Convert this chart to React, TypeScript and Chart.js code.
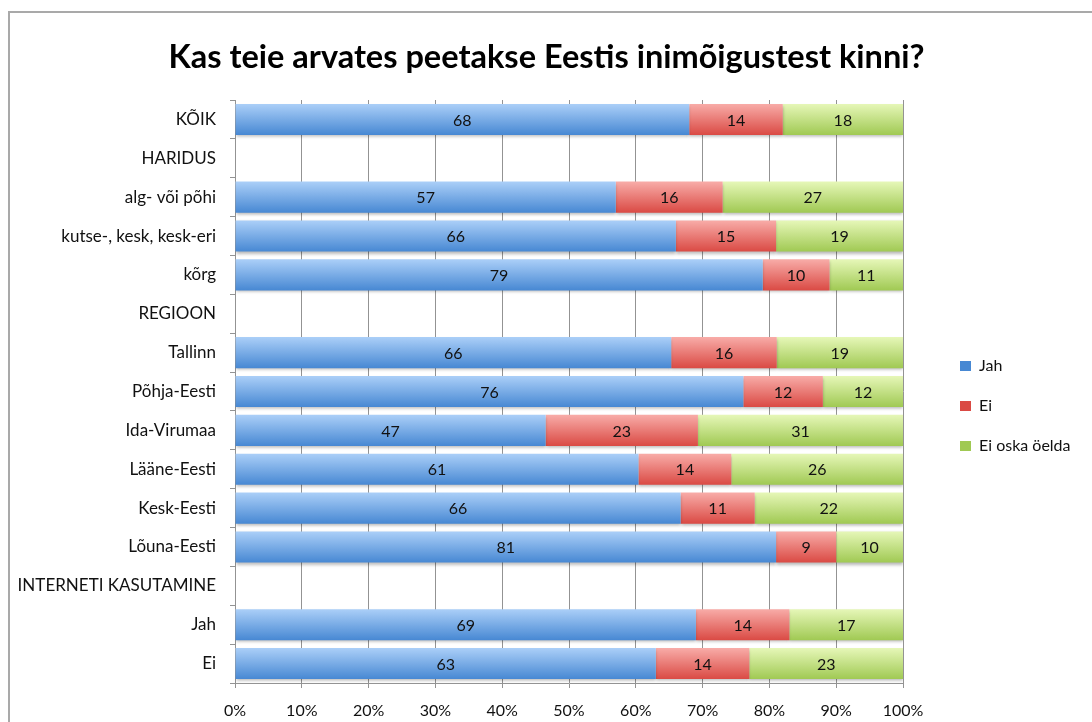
import React, { useEffect, useRef } from "react";
import { Chart, registerables } from "chart.js";

Chart.register(...registerables);

const categories = [
  "KÕIK",
  "HARIDUS",
  "alg- või põhi",
  "kutse-, kesk, kesk-eri",
  "kõrg",
  "REGIOON",
  "Tallinn",
  "Põhja-Eesti",
  "Ida-Virumaa",
  "Lääne-Eesti",
  "Kesk-Eesti",
  "Lõuna-Eesti",
  "INTERNETI KASUTAMINE",
  "Jah",
  "Ei",
];

const seriesNames = ["Jah", "Ei", "Ei oska öelda"];

const jahValues = [68, null, 57, 66, 79, null, 65.3, 76.1, 46.5, 60.4, 66.7, 81.0, null, 69, 63];
const eiValues = [14, null, 16, 15, 10, null, 15.8, 11.9, 22.8, 13.9, 11.1, 9.0, null, 14, 14];
const eosValues = [18, null, 27, 19, 11, null, 18.9, 12.0, 30.7, 25.7, 22.2, 10.0, null, 17, 23];

const jahLabels = ["68", "", "57", "66", "79", "", "66", "76", "47", "61", "66", "81", "", "69", "63"];
const eiLabels = ["14", "", "16", "15", "10", "", "16", "12", "23", "14", "11", "9", "", "14", "14"];
const eosLabels = ["18", "", "27", "19", "11", "", "19", "12", "31", "26", "22", "10", "", "17", "23"];

const xTickValues = [0, 10, 20, 30, 40, 50, 60, 70, 80, 90, 100];

const labelSets = [jahLabels, eiLabels, eosLabels];

const FONT = "Lato, 'Open Sans', 'Noto Sans', sans-serif";
const BAR_PCT = 0.8;

function gradientFill(top: string, bottom: string, flat: string) {
  return (ctx: any) => {
    if (ctx.type !== "data") return flat;
    const chart = ctx.chart;
    const ys = chart.scales && chart.scales.y;
    if (!ys || !chart.chartArea) return flat;
    const c = ys.getPixelForValue(ctx.dataIndex);
    const band = Math.abs(ys.getPixelForValue(1) - ys.getPixelForValue(0)) || 38;
    const h = band * BAR_PCT;
    const g = chart.ctx.createLinearGradient(0, c - h / 2, 0, c + h / 2);
    g.addColorStop(0, top);
    g.addColorStop(1, bottom);
    return g;
  };
}

const barDecor = {
  id: "barDecor",
  beforeDatasetsDraw(chart: any) {
    const c = chart.ctx;
    c.save();
    c.shadowColor = "rgba(0,0,0,0.28)";
    c.shadowBlur = 3;
    c.shadowOffsetX = 0;
    c.shadowOffsetY = 2;
  },
  afterDatasetsDraw(chart: any) {
    const c = chart.ctx;
    c.restore();
    c.save();
    c.font = `16px ${FONT}`;
    c.fillStyle = "#111111";
    c.textAlign = "center";
    c.textBaseline = "middle";
    chart.data.datasets.forEach((ds: any, di: number) => {
      const meta = chart.getDatasetMeta(di);
      const lbls = labelSets[di];
      meta.data.forEach((el: any, i: number) => {
        if (ds.data[i] == null) return;
        const p = el.getProps(["x", "y", "base"], true);
        c.fillText(lbls[i], (p.x + p.base) / 2, p.y + 1);
      });
    });
    c.restore();
  },
};

const boxPlace = {
  id: "boxPlace",
  afterLayout(chart: any) {
    const lg = chart.legend;
    if (lg) {
      lg.left = 926;
      lg.right = 1082;
      lg.top = 87;
      lg.bottom = 699;
    }
    const tb = chart.titleBlock;
    if (tb) {
      tb.left = 0;
      tb.right = 1073;
    }
  },
};

export default function App() {
  const ref = useRef<HTMLCanvasElement | null>(null);

  useEffect(() => {
    if (!ref.current) return;
    const chart = new Chart(ref.current, {
      type: "bar",
      data: {
        labels: categories,
        datasets: [
          {
            label: seriesNames[0],
            data: jahValues,
            backgroundColor: gradientFill("#abcff8", "#4788d3", "#70a6e6"),
            borderWidth: 0,
          },
          {
            label: seriesNames[1],
            data: eiValues,
            backgroundColor: gradientFill("#f8aca8", "#da4a44", "#e87571"),
            borderWidth: 0,
          },
          {
            label: seriesNames[2],
            data: eosValues,
            backgroundColor: gradientFill("#e6f7b8", "#a0c953", "#c5e288"),
            borderWidth: 0,
          },
        ],
      },
      options: {
        indexAxis: "y",
        responsive: false,
        animation: false,
        events: [],
        datasets: {
          bar: {
            barPercentage: BAR_PCT,
            categoryPercentage: 1,
          },
        },
        layout: {
          padding: { left: 0, right: 59, top: 0, bottom: 0 },
        },
        scales: {
          x: {
            stacked: true,
            min: 0,
            max: 100,
            afterBuildTicks: (scale: any) => {
              scale.ticks = xTickValues.map((v) => ({ value: v }));
            },
            afterFit: (scale: any) => {
              scale.height = 39;
            },
            ticks: {
              callback: (v: any) => `${v}%`,
              color: "#111111",
              font: { family: FONT, size: 16 },
              padding: 13,
              maxRotation: 0,
            },
            grid: {
              color: "#939393",
              lineWidth: 1,
              tickLength: 5,
              drawTicks: true,
            },
            border: { color: "#939393", width: 1 },
          },
          y: {
            stacked: true,
            afterFit: (scale: any) => {
              scale.width = 225;
            },
            ticks: {
              autoSkip: false,
              color: "#111111",
              font: { family: FONT, size: 17 },
              padding: 14,
            },
            grid: {
              offset: true,
              drawOnChartArea: false,
              drawTicks: true,
              tickLength: 5,
              color: "#939393",
            },
            border: { color: "#939393", width: 1 },
          },
        },
        plugins: {
          title: {
            display: true,
            text: "Kas teie arvates peetakse Eestis inimõigustest kinni?",
            color: "#000000",
            font: { family: FONT, size: 32.5, weight: "bold" },
            padding: { top: 25, bottom: 23 },
          },
          legend: {
            display: true,
            position: "right",
            maxWidth: 130,
            labels: {
              boxWidth: 11,
              boxHeight: 10,
              padding: 24,
              color: "#111111",
              font: { family: FONT, size: 16 },
            },
          },
          tooltip: { enabled: false },
        },
      },
      plugins: [barDecor, boxPlace],
    } as any);
    return () => chart.destroy();
  }, []);

  return (
    <div
      style={{
        position: "absolute",
        left: 8,
        top: 11,
        width: 1084,
        height: 711,
        boxSizing: "border-box",
        borderTop: "2px solid #a9a9a9",
        borderLeft: "2px solid #a9a9a9",
        background: "#ffffff",
      }}
    >
      <canvas ref={ref} width={1082} height={709} style={{ display: "block" }} />
    </div>
  );
}
